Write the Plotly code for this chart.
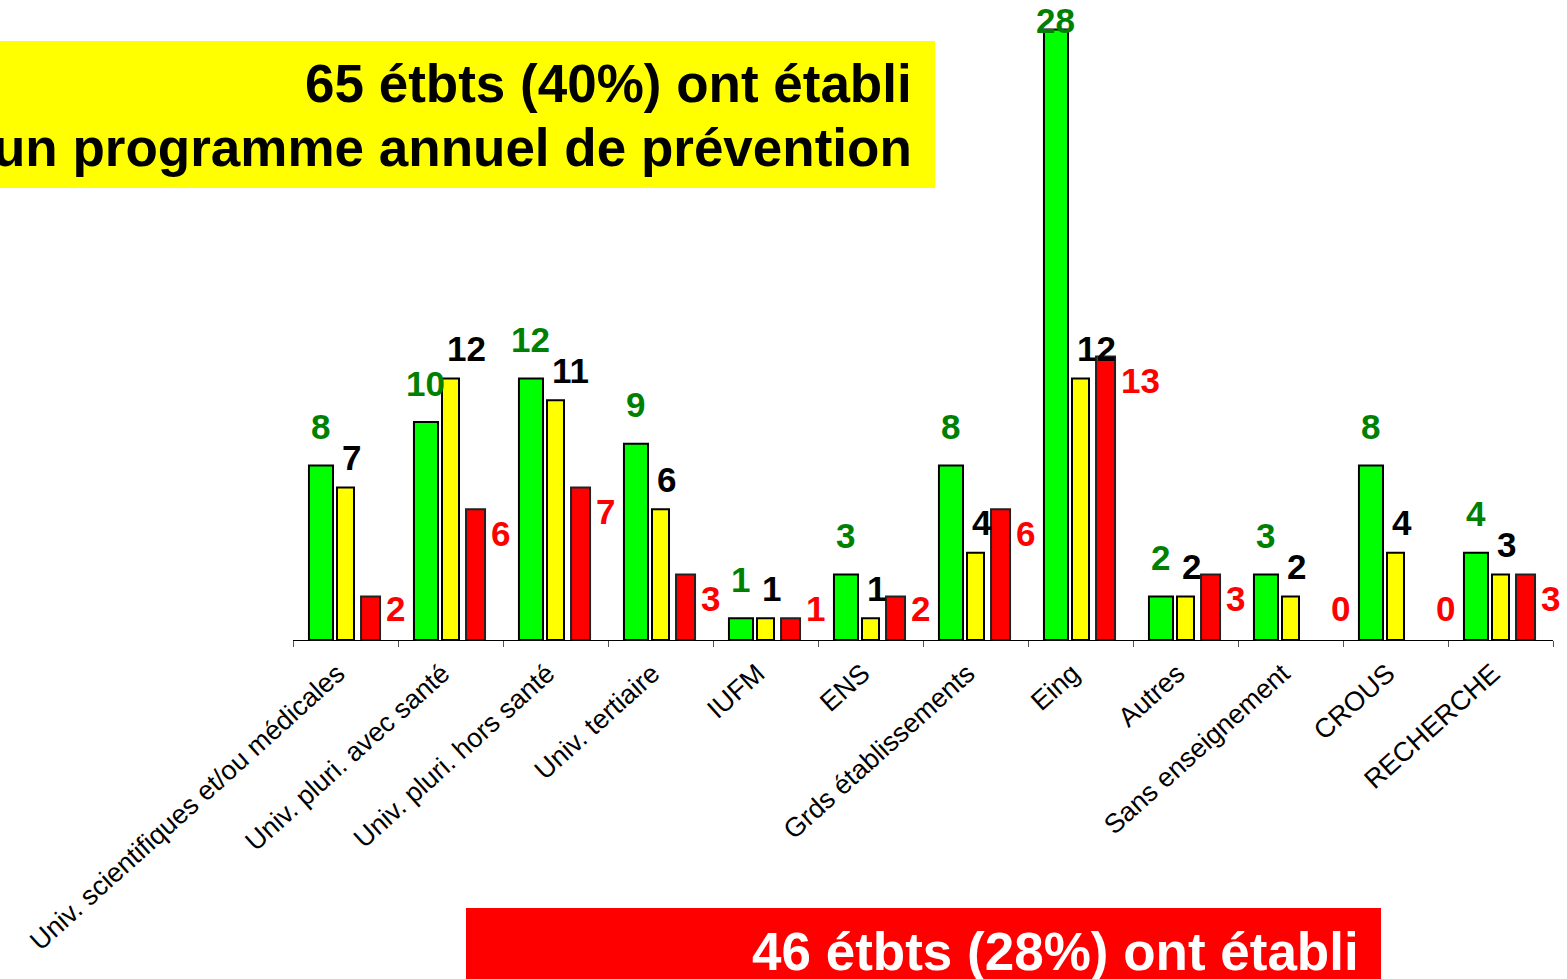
import plotly.graph_objects as go

# ---------------- data ----------------
categories = [
    "Univ. scientifiques et/ou médicales",
    "Univ. pluri. avec santé",
    "Univ. pluri. hors santé",
    "Univ. tertiaire",
    "IUFM",
    "ENS",
    "Grds établissements",
    "Eing",
    "Autres",
    "Sans enseignement",
    "CROUS",
    "RECHERCHE",
]
green_values = [8, 10, 12, 9, 1, 3, 8, 28, 2, 3, 8, 4]
yellow_values = [7, 12, 11, 6, 1, 1, 4, 12, 2, 2, 4, 3]
red_values = [2, 6, 7, 3, 1, 2, 6, 13, 3, 0, 0, 3]

title_top = ["65 étbts (40%) ont établi", "un programme annuel de prévention"]
title_bottom = ["46 étbts (28%) ont établi"]

# ---------------- layout constants ----------------
W, H = 1567, 979
ML, MR, MT, MB = 293, 14, 10, 339
PW, PH = W - ML - MR, H - MT - MB
YMAX = 28.9
PPU = PH / YMAX  # pixels per unit

FONT = "Liberation Sans, Arial, sans-serif"
LBL = 35

# bar geometry (category units)
G_OFF, G_W = -0.348, 0.229
Y_OFF, Y_W = -0.081, 0.162
R_OFF, R_W = 0.148, 0.181


def px_x(px):
    return (px - ML) / PW


def px_y(py):
    return (H - MB - py) / PH


fig = go.Figure()
fig.add_trace(go.Bar(x=categories, y=green_values, offset=G_OFF, width=G_W,
                     marker=dict(color="#00FF00", line=dict(color="#000000", width=2)),
                     name="vert"))
fig.add_trace(go.Bar(x=categories, y=yellow_values, offset=Y_OFF, width=Y_W,
                     marker=dict(color="#FFFF00", line=dict(color="#000000", width=2)),
                     name="jaune"))
fig.add_trace(go.Bar(x=categories, y=[v if v > 0 else None for v in red_values],
                     offset=R_OFF, width=R_W,
                     marker=dict(color="#FF0000", line=dict(color="#222222", width=2)),
                     name="rouge"))

annotations = []
for i in range(len(categories)):
    g, yv, r = green_values[i], yellow_values[i], red_values[i]
    # green label, centred above green bar
    annotations.append(dict(
        x=i + G_OFF + G_W / 2, y=min(g + 39 / PPU, YMAX - 10 / PPU),
        xref="x", yref="y", text=str(g), showarrow=False,
        xanchor="center", yanchor="middle",
        font=dict(family=FONT, size=LBL, color="#008000", weight="bold")))
    # yellow bar label (black)
    annotations.append(dict(
        x=i + Y_OFF + Y_W / 2, y=yv + 30 / PPU,
        xref="x", yref="y", text=str(yv), showarrow=False,
        xanchor="left", yanchor="middle", xshift=-6,
        font=dict(family=FONT, size=LBL, color="#000000", weight="bold")))
    # red label, right of red bar
    annotations.append(dict(
        x=i + R_OFF + R_W, y=max(r - 24 / PPU, 32 / PPU),
        xref="x", yref="y", text=str(r), showarrow=False,
        xanchor="left", yanchor="middle", xshift=4,
        font=dict(family=FONT, size=LBL, color="#FF0000", weight="bold")))

# top yellow box text
annotations.append(dict(x=px_x(914), y=px_y(83), xref="paper", yref="paper",
                        text=title_top[0], showarrow=False, xanchor="right", yanchor="middle",
                        font=dict(family=FONT, size=53, color="#000000", weight="bold")))
annotations.append(dict(x=px_x(914), y=px_y(147), xref="paper", yref="paper",
                        text=title_top[1], showarrow=False, xanchor="right", yanchor="middle",
                        font=dict(family=FONT, size=53, color="#000000", weight="bold")))
# bottom red box text
annotations.append(dict(x=px_x(1361), y=px_y(951), xref="paper", yref="paper",
                        text=title_bottom[0], showarrow=False, xanchor="right", yanchor="middle",
                        font=dict(family=FONT, size=53, color="#FFFFFF", weight="bold")))

shapes = [
    dict(type="rect", xref="paper", yref="paper",
         x0=px_x(0), x1=px_x(935), y0=px_y(188), y1=px_y(41),
         fillcolor="#FFFF00", line=dict(width=0), layer="below"),
    dict(type="rect", xref="paper", yref="paper",
         x0=px_x(466), x1=px_x(1381), y0=px_y(1000), y1=px_y(908),
         fillcolor="#FF0000", line=dict(width=0), layer="below"),
]

fig.update_layout(
    width=W, height=H,
    margin=dict(l=ML, r=MR, t=MT, b=MB, pad=0),
    paper_bgcolor="#FFFFFF", plot_bgcolor="#FFFFFF",
    barmode="overlay", showlegend=False,
    annotations=annotations, shapes=shapes,
    xaxis=dict(type="category", categoryorder="array", categoryarray=categories,
               range=[-0.5, len(categories) - 0.5],
               showline=True, linecolor="#000000", linewidth=1,
               ticks="outside", tickson="boundaries", ticklen=6, tickcolor="#555555",
               tickangle=-42, tickfont=dict(family=FONT, size=27, color="#000000"),
               ticklabelstandoff=6, ticklabelshift=-8,
               showgrid=False, zeroline=False, fixedrange=True),
    yaxis=dict(range=[0, YMAX], visible=False, showgrid=False, zeroline=False),
)

fig.write_html("out.html")
